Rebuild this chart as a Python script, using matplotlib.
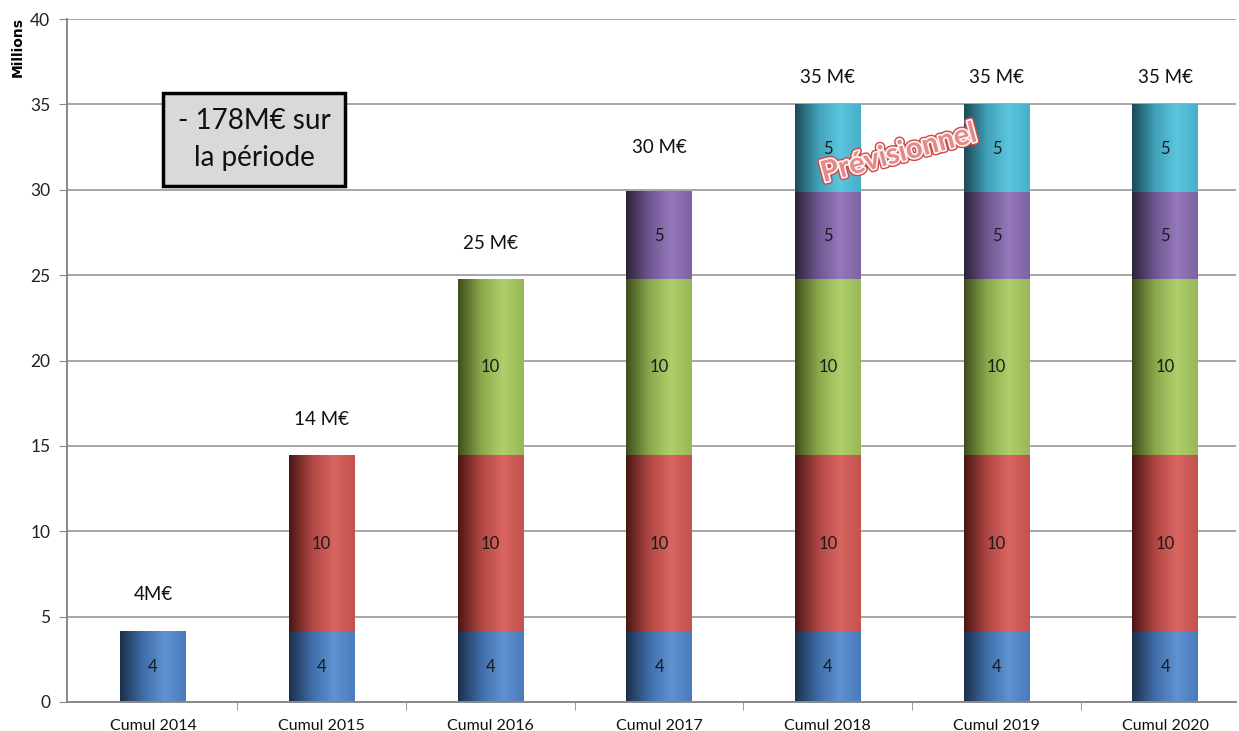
import numpy as np
import matplotlib
matplotlib.use("Agg")
import matplotlib.pyplot as plt
from matplotlib.colors import LinearSegmentedColormap
import matplotlib.patheffects as pe

# Cumulative savings by year (millions of euros), stacked by source year
categories = ["Cumul 2014", "Cumul 2015", "Cumul 2016", "Cumul 2017",
              "Cumul 2018", "Cumul 2019", "Cumul 2020"]
s2014 = [4.1, 4.1, 4.1, 4.1, 4.1, 4.1, 4.1]
s2015 = [0, 10.35, 10.35, 10.35, 10.35, 10.35, 10.35]
s2016 = [0, 0, 10.3, 10.3, 10.3, 10.3, 10.3]
s2017 = [0, 0, 0, 5.1, 5.1, 5.1, 5.1]
s2018 = [0, 0, 0, 0, 5.1, 5.1, 5.1]
series = [s2014, s2015, s2016, s2017, s2018]
total_labels = ["4M€", "14 M€", "25 M€", "30 M€", "35 M€", "35 M€", "35 M€"]
yticks = [0, 5, 10, 15, 20, 25, 30, 35, 40]

# styling: shading stops (dark edge -> body -> highlight -> right edge)
shades = [
    ["#1b2f4a", "#3f6da8", "#5f92d2", "#4a7bbd"],
    ["#4a1715", "#b04643", "#d96561", "#c4514e"],
    ["#3e4d1c", "#8aa84c", "#b0cf6b", "#98b858"],
    ["#2c2238", "#6f568f", "#9578bd", "#7d63a3"],
    ["#1c4a55", "#40a0b8", "#5cc6df", "#47aec8"],
]
label_offsets = [2.2, 2.1, 2.1, 2.6, 1.6, 1.6, 1.6]
XLIM = (-0.51, 6.42)

plt.rcParams["font.family"] = ["Lato", "DejaVu Sans"]

fig = plt.figure(figsize=(12.39, 7.31), dpi=100)
ax = fig.add_axes([67 / 1239, 29 / 731, (1236 - 67) / 1239, (702 - 19) / 731])

x = np.arange(len(categories))
width = 0.39

grad = np.linspace(0, 1, 256).reshape(1, -1)
bottoms = np.zeros(len(categories))
for vals, stops in zip(series, shades):
    cmap = LinearSegmentedColormap.from_list(
        "shade", list(zip([0.0, 0.35, 0.68, 1.0], stops)))
    bars = ax.bar(x, vals, width, bottom=bottoms, color="none",
                  edgecolor="none", zorder=2)
    for b, v in zip(bars, vals):
        if v <= 0:
            continue
        x0, y0 = b.get_x(), b.get_y()
        ax.imshow(grad, cmap=cmap, aspect="auto", zorder=2,
                  extent=(x0, x0 + b.get_width(), y0, y0 + b.get_height()),
                  interpolation="bicubic")
        ax.text(x0 + b.get_width() / 2, y0 + v / 2, f"{v:.0f}",
                ha="center", va="center", fontsize=12, color="#1a1a1a",
                zorder=4)
    bottoms += np.array(vals)

for xi, tot, lab, off in zip(x, bottoms, total_labels, label_offsets):
    ax.text(xi, tot + off, lab, ha="center", va="center", fontsize=13.5,
            color="#111111", zorder=4)

# axes and grid
ax.set_yticks(yticks)
ax.set_yticklabels([str(t) for t in yticks], fontsize=12.5, color="#222222")
ax.yaxis.grid(True, color="#a6a6a6", linewidth=1.4, zorder=0)
ax.set_axisbelow(True)
ax.set_xticks(x)
ax.set_xticklabels(categories, fontsize=11.5, color="#111111")
ax.set_xticks(np.arange(0.5, 6.0, 1.0), minor=True)
ax.tick_params(axis="x", which="major", length=0, pad=12)
ax.tick_params(axis="x", which="minor", length=6, color="#888888")
ax.tick_params(axis="y", length=6, color="#888888", pad=6)
for s in ["top", "right"]:
    ax.spines[s].set_visible(False)
for s in ["left", "bottom"]:
    ax.spines[s].set_color("#888888")
    ax.spines[s].set_linewidth(1.4)
ax.set_xlim(*XLIM)
ax.set_ylim(0, 40)

fig.text(18 / 1239, 1 - 47 / 731, "Millions", rotation=90, ha="center",
         va="center", fontsize=10, fontweight="bold", family="DejaVu Sans")

# summary box
ax.text(0.60, 32.95, "- 178M€ sur\nla période", ha="center", va="center",
        fontsize=20, color="#111111", linespacing=1.55, zorder=5,
        bbox=dict(boxstyle="square,pad=0.52", facecolor="#d9d9d9",
                  edgecolor="black", linewidth=2.5))

# forecast stamp
ax.text(4.42, 32.1, "Prévisionnel", rotation=15, ha="center", va="center",
        fontsize=21, fontweight="bold", color="#e08a8a", zorder=6,
        path_effects=[pe.Stroke(linewidth=4.5, foreground="#d04848"),
                      pe.Stroke(linewidth=2.5, foreground="#fff4f4"),
                      pe.Normal()])

fig.savefig("out.png", dpi=100)
